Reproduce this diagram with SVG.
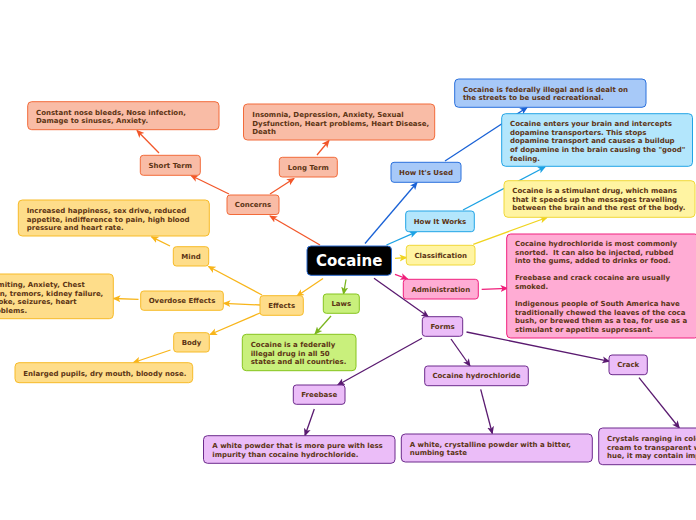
<svg xmlns="http://www.w3.org/2000/svg" width="696" height="520" viewBox="0 0 696 520">
<defs>
<style>
text{font-family:"DejaVu Sans",Verdana,sans-serif;font-weight:bold;font-size:7px;fill:#5c3414;white-space:pre}
.n{text-anchor:middle}
.c{fill:none;stroke-width:1.3}
rect{stroke-width:1}
.co{fill:#f9bca6;stroke:#f26b3a}.cl{stroke:#f2572a}
.ef{fill:#fedd8a;stroke:#f7bb28}.el{stroke:#f8b51a}
.la{fill:#c9f07c;stroke:#86c41e}.ll{stroke:#7ab51e}
.us{fill:#a7c9f8;stroke:#2a70dc}.ul{stroke:#1a62d6}
.wo{fill:#b3e6fc;stroke:#22a4e6}.wl{stroke:#1ca2e4}
.cs{fill:#fff4a2;stroke:#f0d838}.sl{stroke:#f0d41e}
.ad{fill:#ffacd4;stroke:#f0207e}.al{stroke:#f01e7a}
.fo{fill:#ebbdf8;stroke:#6c2a8c}.fl{stroke:#5a1a70}
</style>
<marker id="mco" markerUnits="userSpaceOnUse" markerWidth="8" markerHeight="8" refX="7" refY="4" orient="auto"><path d="M0,0.5 L8,4 L0,7.5 L2,4 z" fill="#f2572a"/></marker>
<marker id="mef" markerUnits="userSpaceOnUse" markerWidth="8" markerHeight="8" refX="7" refY="4" orient="auto"><path d="M0,0.5 L8,4 L0,7.5 L2,4 z" fill="#f8b51a"/></marker>
<marker id="mla" markerUnits="userSpaceOnUse" markerWidth="8" markerHeight="8" refX="7" refY="4" orient="auto"><path d="M0,0.5 L8,4 L0,7.5 L2,4 z" fill="#7ab51e"/></marker>
<marker id="mus" markerUnits="userSpaceOnUse" markerWidth="8" markerHeight="8" refX="7" refY="4" orient="auto"><path d="M0,0.5 L8,4 L0,7.5 L2,4 z" fill="#1a62d6"/></marker>
<marker id="mwo" markerUnits="userSpaceOnUse" markerWidth="8" markerHeight="8" refX="7" refY="4" orient="auto"><path d="M0,0.5 L8,4 L0,7.5 L2,4 z" fill="#1ca2e4"/></marker>
<marker id="mcs" markerUnits="userSpaceOnUse" markerWidth="8" markerHeight="8" refX="7" refY="4" orient="auto"><path d="M0,0.5 L8,4 L0,7.5 L2,4 z" fill="#f0d41e"/></marker>
<marker id="mad" markerUnits="userSpaceOnUse" markerWidth="8" markerHeight="8" refX="7" refY="4" orient="auto"><path d="M0,0.5 L8,4 L0,7.5 L2,4 z" fill="#f01e7a"/></marker>
<marker id="mfo" markerUnits="userSpaceOnUse" markerWidth="8" markerHeight="8" refX="7" refY="4" orient="auto"><path d="M0,0.5 L8,4 L0,7.5 L2,4 z" fill="#5a1a70"/></marker>
</defs>
<rect width="696" height="520" fill="#ffffff"/>
<g id="connectors">
<line class="c cl" x1="320" y1="245" x2="270" y2="216" marker-end="url(#mco)"/>
<line class="c cl" x1="270" y1="194" x2="294" y2="178.5" marker-end="url(#mco)"/>
<line class="c cl" x1="317" y1="155" x2="329" y2="140.5" marker-end="url(#mco)"/>
<line class="c cl" x1="229" y1="194" x2="191" y2="175.5" marker-end="url(#mco)"/>
<line class="c cl" x1="159" y1="153" x2="137" y2="130.5" marker-end="url(#mco)"/>
<line class="c el" x1="323" y1="278.5" x2="297" y2="296" marker-end="url(#mef)"/>
<line class="c el" x1="262" y1="295" x2="208.5" y2="266.5" marker-end="url(#mef)"/>
<line class="c el" x1="260" y1="305" x2="223.5" y2="303.3" marker-end="url(#mef)"/>
<line class="c el" x1="260" y1="313" x2="210" y2="334.5" marker-end="url(#mef)"/>
<line class="c el" x1="170" y1="246" x2="151.5" y2="236.8" marker-end="url(#mef)"/>
<line class="c el" x1="138.5" y1="299.3" x2="113.5" y2="298.5" marker-end="url(#mef)"/>
<line class="c el" x1="170.5" y1="350" x2="133.5" y2="362.5" marker-end="url(#mef)"/>
<line class="c ll" x1="346" y1="279.5" x2="343.5" y2="294" marker-end="url(#mla)"/>
<line class="c ll" x1="331" y1="316" x2="315" y2="334" marker-end="url(#mla)"/>
<line class="c ul" x1="365" y1="243.5" x2="417" y2="182.5" marker-end="url(#mus)"/>
<line class="c ul" x1="445" y1="161" x2="527" y2="107.5" marker-end="url(#mus)"/>
<line class="c wl" x1="386.5" y1="245" x2="416.5" y2="231.8" marker-end="url(#mwo)"/>
<line class="c wl" x1="463" y1="210" x2="545" y2="167" marker-end="url(#mwo)"/>
<line class="c sl" x1="395" y1="258.3" x2="406.5" y2="257.5" marker-end="url(#mcs)"/>
<line class="c sl" x1="473.3" y1="244.3" x2="547" y2="217.5" marker-end="url(#mcs)"/>
<line class="c al" x1="395" y1="274.3" x2="407.5" y2="279" marker-end="url(#mad)"/>
<line class="c al" x1="481.7" y1="289.3" x2="507.5" y2="288.3" marker-end="url(#mad)"/>
<line class="c fl" x1="374" y1="278.3" x2="428.3" y2="316.8" marker-end="url(#mfo)"/>
<line class="c fl" x1="422" y1="338.3" x2="337.7" y2="385" marker-end="url(#mfo)"/>
<line class="c fl" x1="451" y1="339" x2="470" y2="366" marker-end="url(#mfo)"/>
<line class="c fl" x1="466.5" y1="332" x2="609.3" y2="361.3" marker-end="url(#mfo)"/>
<line class="c fl" x1="314.3" y1="409" x2="305" y2="435.5" marker-end="url(#mfo)"/>
<line class="c fl" x1="480.7" y1="389.3" x2="492.3" y2="433.5" marker-end="url(#mfo)"/>
<line class="c fl" x1="639" y1="377.7" x2="679.3" y2="428" marker-end="url(#mfo)"/>
</g>
<g id="cocaine">
<rect x="307" y="246" width="84.5" height="29.3" rx="4" fill="#000000" stroke="#2a6ad0" stroke-width="1.5"/>
<text x="349.2" y="266" class="n" style="font-size:15px;fill:#ffffff">Cocaine</text>
</g>
<g id="concerns"><rect class="co" x="227" y="195" width="52" height="19.5" rx="3"/><text class="n" x="253" y="207.2">Concerns</text></g>
<g id="long-term"><rect class="co" x="279.3" y="157.3" width="58" height="19.7" rx="3"/><text class="n" x="308.3" y="169.7">Long Term</text></g>
<g id="long-term-detail"><rect class="co" x="243.5" y="104" width="191.2" height="36" rx="4"/><text x="252.3" y="117">Insomnia, Depression, Anxiety, Sexual</text><text x="252.3" y="125.5">Dysfunction, Heart problems, Heart Disease,</text><text x="252.3" y="134">Death</text></g>
<g id="short-term"><rect class="co" x="140.3" y="155.3" width="60" height="20" rx="3"/><text class="n" x="170.3" y="167.8">Short Term</text></g>
<g id="short-term-detail"><rect class="co" x="27.7" y="101.7" width="191.3" height="28" rx="4"/><text x="36" y="115">Constant nose bleeds, Nose infection,</text><text x="36" y="123">Damage to sinuses, Anxiety.</text></g>
<g id="effects"><rect class="ef" x="260" y="295.7" width="43.3" height="19.6" rx="3"/><text class="n" x="281.7" y="308">Effects</text></g>
<g id="mind"><rect class="ef" x="173.3" y="246.7" width="35.4" height="19.3" rx="3"/><text class="n" x="191" y="258.8">Mind</text></g>
<g id="mind-detail"><rect class="ef" x="18.3" y="200" width="191" height="36" rx="4"/><text x="26.7" y="213">Increased happiness, sex drive, reduced</text><text x="26.7" y="221.5">appetite, indifference to pain, high blood</text><text x="26.7" y="230">pressure and heart rate.</text></g>
<g id="overdose"><rect class="ef" x="140.7" y="291" width="82.6" height="19.3" rx="3"/><text class="n" x="182" y="303.2">Overdose Effects</text></g>
<g id="overdose-detail"><rect class="ef" x="-21" y="274" width="134.3" height="44.7" rx="4"/><text x="-12.5" y="287">Vomiting, Anxiety, Chest</text><text x="-12.5" y="295.5">pain, tremors, kidney failure,</text><text x="-12.5" y="304">stroke, seizures, heart</text><text x="-12.5" y="312.5">problems.</text></g>
<g id="body"><rect class="ef" x="173.7" y="332.7" width="35.6" height="19.3" rx="3"/><text class="n" x="191.5" y="344.8">Body</text></g>
<g id="body-detail"><rect class="ef" x="15" y="362.7" width="177.7" height="20" rx="4"/><text x="23.3" y="376">Enlarged pupils, dry mouth, bloody nose.</text></g>
<g id="laws"><rect class="la" x="323.3" y="294" width="36" height="19.3" rx="3"/><text class="n" x="341.3" y="306.2">Laws</text></g>
<g id="laws-detail"><rect class="la" x="242.3" y="334.3" width="113.7" height="36.4" rx="4"/><text x="250.7" y="347">Cocaine is a federally</text><text x="250.7" y="355.5">illegal drug in all 50</text><text x="250.7" y="364">states and all countries.</text></g>
<g id="how-used"><rect class="us" x="391" y="162.3" width="70" height="20" rx="3"/><text class="n" x="426" y="175">How It's Used</text></g>
<g id="how-used-detail"><rect class="us" x="454.7" y="79" width="191.3" height="28.3" rx="4"/><text x="463" y="92">Cocaine is federally illegal and is dealt on</text><text x="463" y="100">the streets to be used recreational.</text></g>
<g id="how-works"><rect class="wo" x="405.7" y="211" width="68.6" height="20.7" rx="3"/><text class="n" x="440" y="224">How It Works</text></g>
<g id="how-works-detail"><rect class="wo" x="501.7" y="113.7" width="190.8" height="52.6" rx="4"/><text x="510" y="126">Cocaine enters your brain and intercepts</text><text x="510" y="134.7">dopamine transporters. This stops</text><text x="510" y="143.3">dopamine transport and causes a buildup</text><text x="510" y="152">of dopamine in the brain causing the "good"</text><text x="510" y="160.6">feeling.</text></g>
<g id="classification"><rect class="cs" x="406.3" y="245.3" width="68.7" height="19.7" rx="3"/><text class="n" x="440.7" y="257.7">Classification</text></g>
<g id="classification-detail"><rect class="cs" x="504" y="180.7" width="191" height="36.6" rx="4"/><text x="512.3" y="193">Cocaine is a stimulant drug, which means</text><text x="512.3" y="201.5">that it speeds up the messages travelling</text><text x="512.3" y="210">between the brain and the rest of the body.</text></g>
<g id="administration"><rect class="ad" x="403.3" y="279.3" width="75" height="19.7" rx="3"/><text class="n" x="440.8" y="291.7">Administration</text></g>
<g id="administration-detail"><rect class="ad" x="506.7" y="234" width="192" height="104" rx="4"/><text x="515" y="246">Cocaine hydrochloride is most commonly</text><text x="515" y="254.6">snorted.  It can also be injected, rubbed</text><text x="515" y="263.2">into the gums, added to drinks or food.</text><text x="515" y="280.4">Freebase and crack cocaine are usually</text><text x="515" y="289">smoked.</text><text x="515" y="306">Indigenous people of South America have</text><text x="515" y="314.5">traditionally chewed the leaves of the coca</text><text x="515" y="323">bush, or brewed them as a tea, for use as a</text><text x="515" y="331.5">stimulant or appetite suppressant.</text></g>
<g id="forms"><rect class="fo" x="422.3" y="316.7" width="40.4" height="19.6" rx="3"/><text class="n" x="442.5" y="329">Forms</text></g>
<g id="freebase"><rect class="fo" x="293.3" y="385" width="51.7" height="19.3" rx="3"/><text class="n" x="319.2" y="397.2">Freebase</text></g>
<g id="freebase-detail"><rect class="fo" x="203.5" y="435.7" width="191.5" height="27.6" rx="4"/><text x="212.3" y="448.3">A white powder that is more pure with less</text><text x="212.3" y="457.3">impurity than cocaine hydrochloride.</text></g>
<g id="hydrochloride"><rect class="fo" x="424.7" y="366" width="103.6" height="19.7" rx="3"/><text class="n" x="476.5" y="378.3">Cocaine hydrochloride</text></g>
<g id="hydrochloride-detail"><rect class="fo" x="401.3" y="434" width="191" height="28" rx="4"/><text x="409.7" y="447.2">A white, crystalline powder with a bitter,</text><text x="409.7" y="455.2">numbing taste</text></g>
<g id="crack"><rect class="fo" x="609" y="355" width="38.3" height="19.7" rx="3"/><text class="n" x="628.2" y="367.3">Crack</text></g>
<g id="crack-detail"><rect class="fo" x="598.7" y="428" width="120" height="36.7" rx="4"/><text x="607" y="441.2">Crystals ranging in color</text><text x="607" y="449.5">cream to transparent with</text><text x="607" y="458">hue, it may contain impurities</text></g>
</svg>
